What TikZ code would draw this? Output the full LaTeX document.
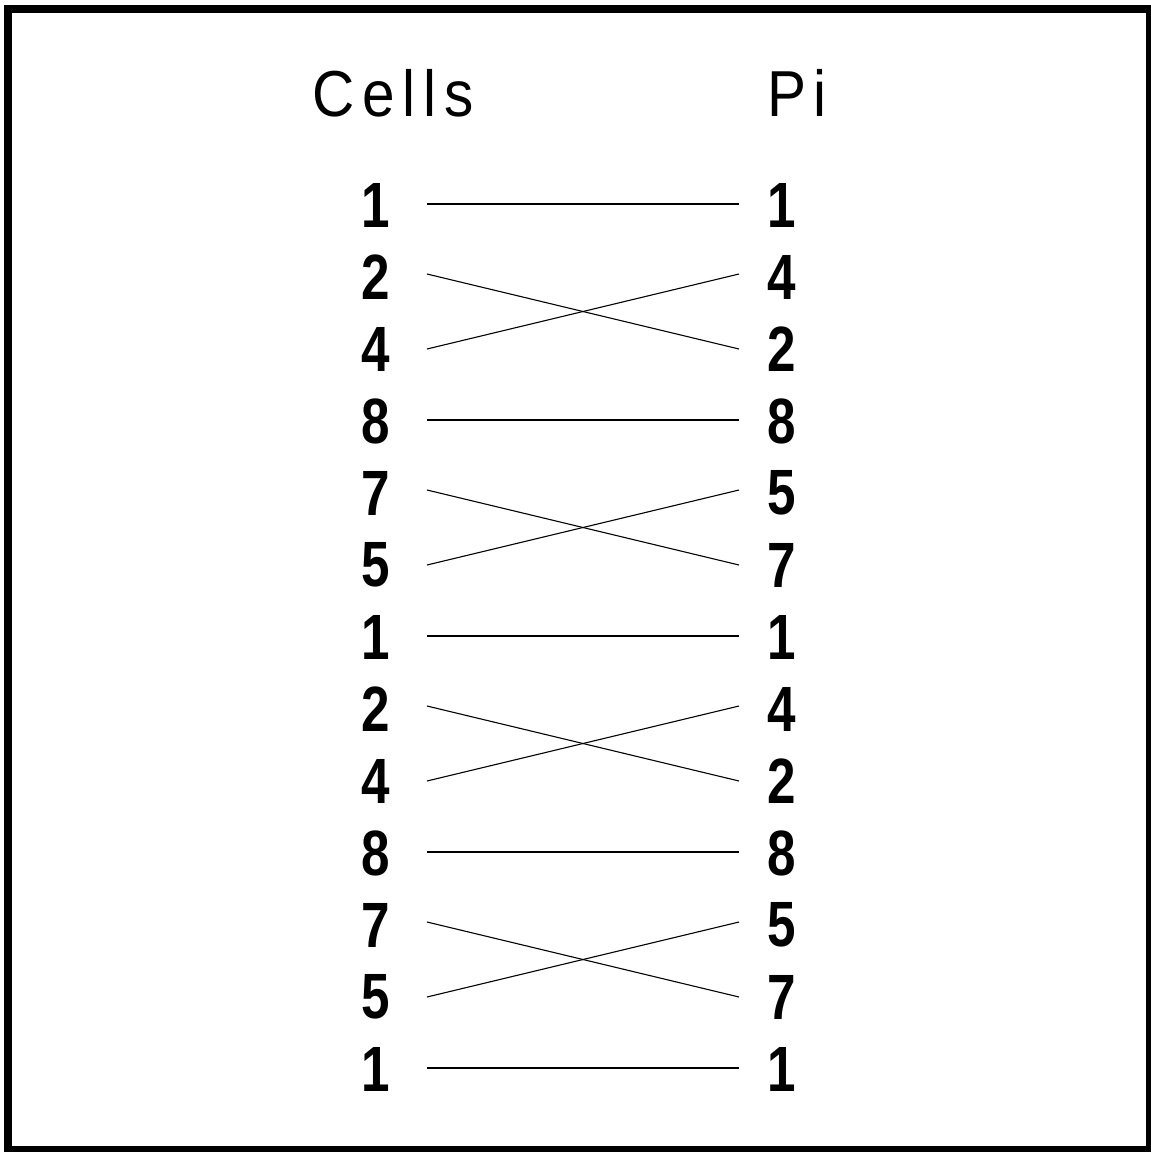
\documentclass[tikz,border=0pt]{standalone}
\usepackage{fontspec}
\setmainfont{Liberation Sans}[FakeStretch=0.9]
\newfontfamily\digfont{Liberation Sans Bold}[FakeStretch=0.8]
\newfontfamily\hdrfont{Liberation Sans}[FakeStretch=0.9,LetterSpace=12]
\begin{document}
\begin{tikzpicture}[x=1pt,y=-1pt,
  digit/.style={inner sep=0pt,font=\digfont\fontsize{64}{70}\selectfont},
  hdr/.style={inner sep=0pt,anchor=base,font=\hdrfont\fontsize{65}{70}\selectfont},
  wire/.style={line width=1.1pt,black}]
\useasboundingbox (0,0) rectangle (1151,1152);
\fill[white] (0,0) rectangle (1151,1152);
\draw[line width=8pt] (8,8.5) rectangle (1150,1150);
\node[hdr] (hc) at (393,116) {Cells};
\node[hdr] (hp) at (797,116) {Pi};
\foreach \l [count=\i] in {1,2,4,8,7,5,1,2,4,8,7,5,1} {
  \node[digit] (L\i) at (376,{205+72*(\i-1)}) {\l};
}
\foreach \r [count=\i] in {1,4,2,8,5,7,1,4,2,8,5,7,1} {
  \node[digit] (R\i) at (782,{205+72*(\i-1)}) {\r};
}
\foreach \i in {1,4,7,10,13} {
  \draw[wire] ([xshift=51pt,yshift=1pt]L\i.center) -- ([xshift=-43pt,yshift=1pt]R\i.center);
}
\foreach \a/\b in {2/3,5/6,8/9,11/12} {
  \draw[wire] ([xshift=51pt,yshift=3pt]L\a.center) -- ([xshift=-43pt]R\b.center);
  \draw[wire] ([xshift=51pt]L\b.center) -- ([xshift=-43pt,yshift=3pt]R\a.center);
}
\end{tikzpicture}
\end{document}
